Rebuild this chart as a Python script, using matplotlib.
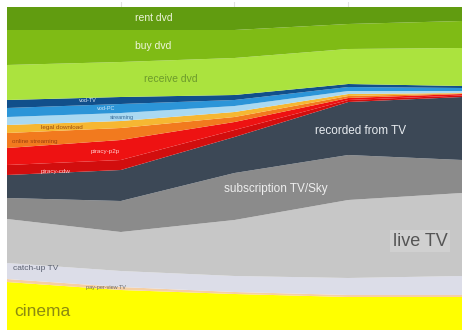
import matplotlib
matplotlib.use("Agg")
import matplotlib.pyplot as plt
import numpy as np

# five survey points across the chart
periods = [0, 1, 2, 3, 4]

# layer shares, bottom to top (normalised to 100% below)
cinema       = [48, 40, 36, 33, 33]
pay_per_view = [3, 3, 2, 2, 2]
catch_up     = [16, 16, 16, 17, 19]
live_tv      = [44, 39, 56, 78, 83]
subscription = [21, 31, 47, 45, 33]
recorded     = [23, 31, 36, 53, 63]
piracy_cdw   = [10, 10, 7, 2, 1.5]
piracy_p2p   = [17, 20, 8, 2, 1.5]
online_strm  = [15, 12, 5, 2, 0.5]
legal_dl     = [8, 7, 5, 2, 0.5]
streaming    = [8, 8, 6, 3, 2]
vod_pc       = [9, 9, 6, 4, 3]
vod_tv       = [8, 7, 5, 3, 2]
receive_dvd  = [35, 35, 37, 35, 38]
buy_dvd      = [35, 32, 28, 25, 27]
rent_dvd     = [23, 23, 23, 17, 14]

layers = [cinema, pay_per_view, catch_up, live_tv, subscription, recorded,
          piracy_cdw, piracy_p2p, online_strm, legal_dl, streaming, vod_pc,
          vod_tv, receive_dvd, buy_dvd, rent_dvd]
colors = ['#ffff00', '#f6cfa2', '#dcdde8', '#c7c7c7', '#8b8b8b', '#3c4856',
          '#d20e0e', '#ee1212', '#f27a1e', '#f6b732', '#aad9f1', '#2c95d8',
          '#114f8b', '#abe33e', '#7fbb15', '#619c10']

data = np.array(layers, dtype=float)
data = data / data.sum(axis=0) * 100

fig = plt.figure(figsize=(4.64, 3.32), dpi=100)
ax = fig.add_axes([7 / 464, 2 / 332, 455 / 464, 328 / 332])
for x in [1, 2, 3]:
    ax.axvline(x, color='#e2e2e2', lw=0.8, zorder=0)
ax.stackplot(periods, data, colors=colors, linewidth=0, zorder=1)
ax.set_xlim(0, 4)
ax.set_ylim(0, 100 * 328 / 323)
ax.axis('off')

narrow = ['Liberation Sans Narrow', 'Liberation Sans', 'DejaVu Sans']


def label(x, y, text, size, color, **kw):
    # x in data units, y in percent from the bottom
    ax.text(x, y, text, fontsize=size, color=color, family=narrow,
            ha='center', va='center', zorder=3, **kw)


def ypos(py):
    # pixel row -> percent of the stack
    return (330 - py) / 323 * 100


def xpos(px):
    return (px - 7) / 455 * 4


label(xpos(154), ypos(18), 'rent dvd', 7.5, '#eef5dc')
label(xpos(153), ypos(46), 'buy dvd', 7.5, '#eef5dc')
label(xpos(171), ypos(79), 'receive dvd', 7.5, '#6c9a2c')
label(xpos(88), ypos(101), 'vod-TV', 4, '#d8e6f5')
label(xpos(106), ypos(109), 'vod-PC', 4, '#cfe6f8')
label(xpos(122), ypos(118), 'streaming', 4, '#3a6c98')
label(xpos(62), ypos(128), 'legal download', 4.5, '#9a4a10')
label(xpos(35), ypos(142), 'online streaming', 4.5, '#9a4010')
label(xpos(105), ypos(152), 'piracy-p2p', 4.5, '#ffd0d0')
label(xpos(56), ypos(171), 'piracy-cdw', 4.5, '#ffd0d0')
label(xpos(361), ypos(131), 'recorded from TV', 8.5, '#e8ecf0')
label(xpos(276), ypos(189), 'subscription TV/Sky', 8.5, '#eeeeee')
label(xpos(420), ypos(241), 'live TV', 13, '#555555',
      bbox=dict(facecolor='#d0d0d0', edgecolor='none', pad=1.5))
label(xpos(36), ypos(268), 'catch-up TV', 6, '#5a6070')
label(xpos(106), ypos(287), 'pay-per-view TV', 4, '#6a6a6a')
label(xpos(42), ypos(311), 'cinema', 12.5, '#8c8a10')

fig.savefig('out.png', dpi=100)
